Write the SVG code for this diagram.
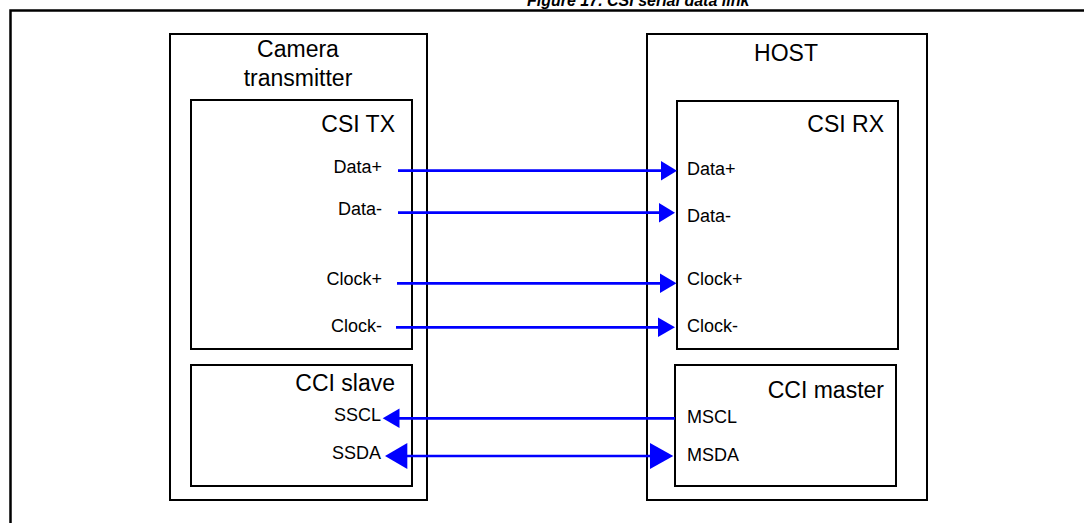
<svg xmlns="http://www.w3.org/2000/svg" width="1084" height="523" viewBox="0 0 1084 523">
<style>
.box{fill:none;stroke:#000;stroke-width:2}
.frame{fill:none;stroke:#000;stroke-width:2.5}
.hd{font-family:"Liberation Sans",Arial,sans-serif;font-size:23px;fill:#000}
.lb{font-family:"Liberation Sans",Arial,sans-serif;font-size:18px;fill:#000}
.title{font-family:"Liberation Sans",Arial,sans-serif;font-size:16px;font-weight:bold;font-style:italic;fill:#000}
.wire{stroke:#0000ff;stroke-width:2.7;fill:none}
.ah{fill:#0000ff}
</style>
<rect width="1084" height="523" fill="#fff"/>
<text class="title" x="527" y="5.5">Figure 17. CSI serial data link</text>
<rect class="frame" x="10.5" y="10.5" width="1100" height="600"/>
<g id="camera">
<rect class="box" x="170" y="34" width="257" height="466"/>
<text class="hd" x="298" y="57" text-anchor="middle">Camera</text>
<text class="hd" x="298" y="86" text-anchor="middle">transmitter</text>
</g>
<g id="csi-tx">
<rect class="box" x="191" y="100" width="221" height="249"/>
<text class="hd" x="395" y="132" text-anchor="end">CSI TX</text>
<text class="lb" x="382" y="173" text-anchor="end">Data+</text>
<text class="lb" x="382" y="215" text-anchor="end">Data-</text>
<text class="lb" x="382" y="285" text-anchor="end">Clock+</text>
<text class="lb" x="382" y="332" text-anchor="end">Clock-</text>
</g>
<g id="cci-slave">
<rect class="box" x="191" y="365" width="221" height="121"/>
<text class="hd" x="395" y="391" text-anchor="end">CCI slave</text>
<text class="lb" x="381" y="421" text-anchor="end">SSCL</text>
<text class="lb" x="381" y="459" text-anchor="end">SSDA</text>
</g>
<g id="host">
<rect class="box" x="647" y="34" width="280" height="466"/>
<text class="hd" x="786" y="61" text-anchor="middle">HOST</text>
</g>
<g id="csi-rx">
<rect class="box" x="677" y="101" width="221" height="248"/>
<text class="hd" x="884" y="132" text-anchor="end">CSI RX</text>
<text class="lb" x="687" y="175">Data+</text>
<text class="lb" x="687" y="222">Data-</text>
<text class="lb" x="687" y="285">Clock+</text>
<text class="lb" x="687" y="332">Clock-</text>
</g>
<g id="cci-master">
<rect class="box" x="675" y="365" width="221" height="121"/>
<text class="hd" x="884" y="398" text-anchor="end">CCI master</text>
<text class="lb" x="687" y="423">MSCL</text>
<text class="lb" x="687" y="461">MSDA</text>
</g>
<g id="connectors">
<line class="wire" x1="398" y1="170.7" x2="662" y2="170.7"/>
<polygon class="ah" points="661,161 677,170.7 661,180.4"/>
<line class="wire" x1="398" y1="212.7" x2="660" y2="212.7"/>
<polygon class="ah" points="659,203 675,212.7 659,222.4"/>
<line class="wire" x1="397" y1="283.3" x2="661" y2="283.3"/>
<polygon class="ah" points="660,273.6 676.5,283.3 660,293"/>
<line class="wire" x1="396" y1="327.3" x2="659" y2="327.3"/>
<polygon class="ah" points="658,317.6 675,327.3 658,337"/>
<line class="wire" x1="398" y1="418.3" x2="675" y2="418.3"/>
<polygon class="ah" points="399.5,408.6 382.7,418.3 399.5,428"/>
<line class="wire" x1="406" y1="456" x2="651" y2="456"/>
<polygon class="ah" points="407.3,443 385,456 407.3,469"/>
<polygon class="ah" points="650,443 673.3,456 650,469"/>
</g>
</svg>
